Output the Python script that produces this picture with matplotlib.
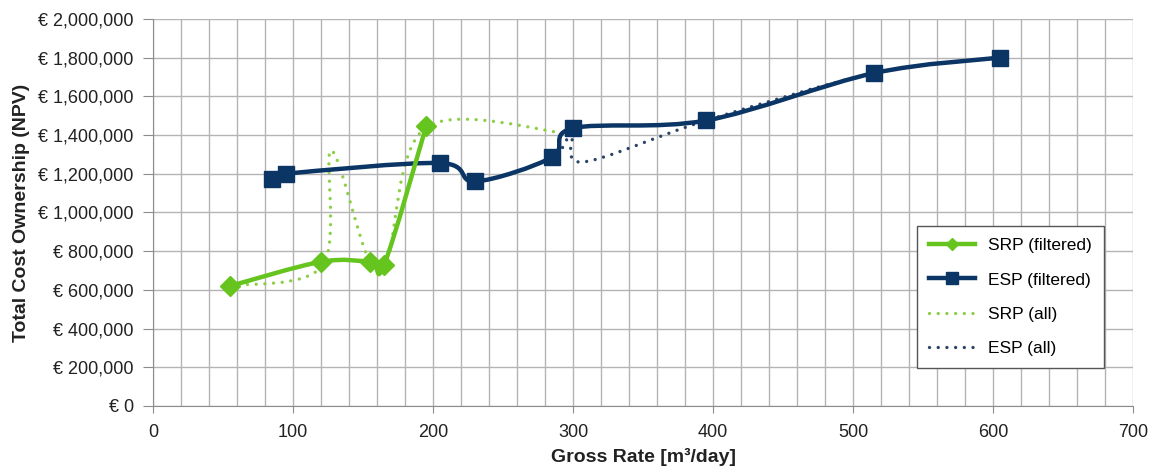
import numpy as np
import matplotlib
matplotlib.use("Agg")
import matplotlib.pyplot as plt
from matplotlib.path import Path
from matplotlib.patches import PathPatch
from matplotlib.lines import Line2D
from matplotlib.ticker import MultipleLocator, FuncFormatter

# SRP / ESP total cost of ownership vs gross rate
srp_filt_x = [55, 120, 155, 165, 195]
srp_filt_y = [620000, 745000, 745000, 730000, 1445000]

esp_filt_x = [85, 95, 205, 230, 285, 300, 395, 515, 605]
esp_filt_y = [1175000, 1200000, 1255000, 1160000, 1285000, 1435000, 1475000, 1720000, 1800000]

srp_all_x = [55, 121, 127, 153, 167, 195, 298]
srp_all_y = [620000, 725000, 1320000, 775000, 750000, 1440000, 1405000]

esp_all_x = [85, 95, 205, 230, 285, 300, 306, 395, 515, 605]
esp_all_y = [1175000, 1200000, 1255000, 1160000, 1285000, 1435000, 1260000, 1475000, 1720000, 1800000]

green = "#66c41e"
green_dot = "#8ccf45"
navy = "#0b3565"
navy_dot = "#2a4468"


def smooth_path(xs, ys):
    # excel style smoothed line: catmull-rom segments as cubic beziers
    p = np.column_stack([xs, ys]).astype(float)
    verts = [p[0]]
    codes = [Path.MOVETO]
    n = len(p)
    for i in range(n - 1):
        p0 = p[i - 1] if i > 0 else p[i]
        p3 = p[i + 2] if i + 2 < n else p[i + 1]
        c1 = p[i] + (p[i + 1] - p0) / 6.0
        c2 = p[i + 1] - (p3 - p[i]) / 6.0
        verts += [c1, c2, p[i + 1]]
        codes += [Path.CURVE4] * 3
    return Path(verts, codes)


plt.rcParams['font.family'] = ['Liberation Sans', 'DejaVu Sans']

fig = plt.figure(figsize=(11.6, 4.72), dpi=100)
ax = fig.add_axes([0.132, 0.14, 0.845, 0.82])

dots = (0, (0.01, 2.6))
ax.add_patch(PathPatch(smooth_path(srp_all_x, srp_all_y), fill=False, edgecolor=green_dot,
                       lw=2.4, linestyle=dots, capstyle='round', zorder=3))
ax.add_patch(PathPatch(smooth_path(esp_all_x, esp_all_y), fill=False, edgecolor=navy_dot,
                       lw=2.4, linestyle=dots, capstyle='round', zorder=3))
ax.add_patch(PathPatch(smooth_path(esp_filt_x, esp_filt_y), fill=False, edgecolor=navy,
                       lw=3.2, zorder=4))
ax.add_patch(PathPatch(smooth_path(srp_filt_x, srp_filt_y), fill=False, edgecolor=green,
                       lw=3.2, zorder=5))
ax.plot(esp_filt_x, esp_filt_y, ls='none', marker='s', ms=11, color=navy, zorder=6)
ax.plot(srp_filt_x, srp_filt_y, ls='none', marker='D', ms=10, color=green, zorder=7)

ax.set_xlim(0, 700)
ax.set_ylim(0, 2000000)
ax.xaxis.set_major_locator(MultipleLocator(100))
ax.xaxis.set_minor_locator(MultipleLocator(20))
ax.yaxis.set_major_locator(MultipleLocator(200000))
ax.yaxis.set_major_formatter(FuncFormatter(lambda v, p: "€ {:,.0f}".format(v)))
ax.grid(which='both', axis='x', color='#b4b4b4', lw=1)
ax.grid(which='major', axis='y', color='#b4b4b4', lw=1)
ax.set_axisbelow(True)
for s in ['top', 'right']:
    ax.spines[s].set_visible(False)
for s in ['left', 'bottom']:
    ax.spines[s].set_color('#8c8c8c')
ax.tick_params(which='major', color='#8c8c8c', labelsize=13, labelcolor='#222222')
ax.tick_params(axis='y', which='major', length=7, pad=7)
ax.tick_params(axis='x', which='major', length=5, pad=8)
ax.tick_params(which='minor', length=0)

ax.set_xlabel("Gross Rate [m³/day]", fontsize=14, fontweight='bold', color='#222222', labelpad=5)
ax.set_ylabel("Total Cost Ownership (NPV)", fontsize=14, fontweight='bold', color='#222222', labelpad=6)

handles = [
    Line2D([], [], color=green, lw=3.2, marker='D', ms=6),
    Line2D([], [], color=navy, lw=3.2, marker='s', ms=8),
    Line2D([], [], color=green_dot, lw=2.4, linestyle=dots, dash_capstyle='round'),
    Line2D([], [], color=navy_dot, lw=2.4, linestyle=dots, dash_capstyle='round'),
]
labels = ["SRP (filtered)", "ESP (filtered)", "SRP (all)", "ESP (all)"]
leg = ax.legend(handles, labels, loc='upper left', bbox_to_anchor=(0.7796, 0.465),
                borderaxespad=0, fontsize=12.5, labelspacing=1.1, handlelength=2.6,
                fancybox=False, edgecolor='#555555', framealpha=1, borderpad=0.7)
leg.get_frame().set_linewidth(1)

fig.savefig("out.png", dpi=100)
